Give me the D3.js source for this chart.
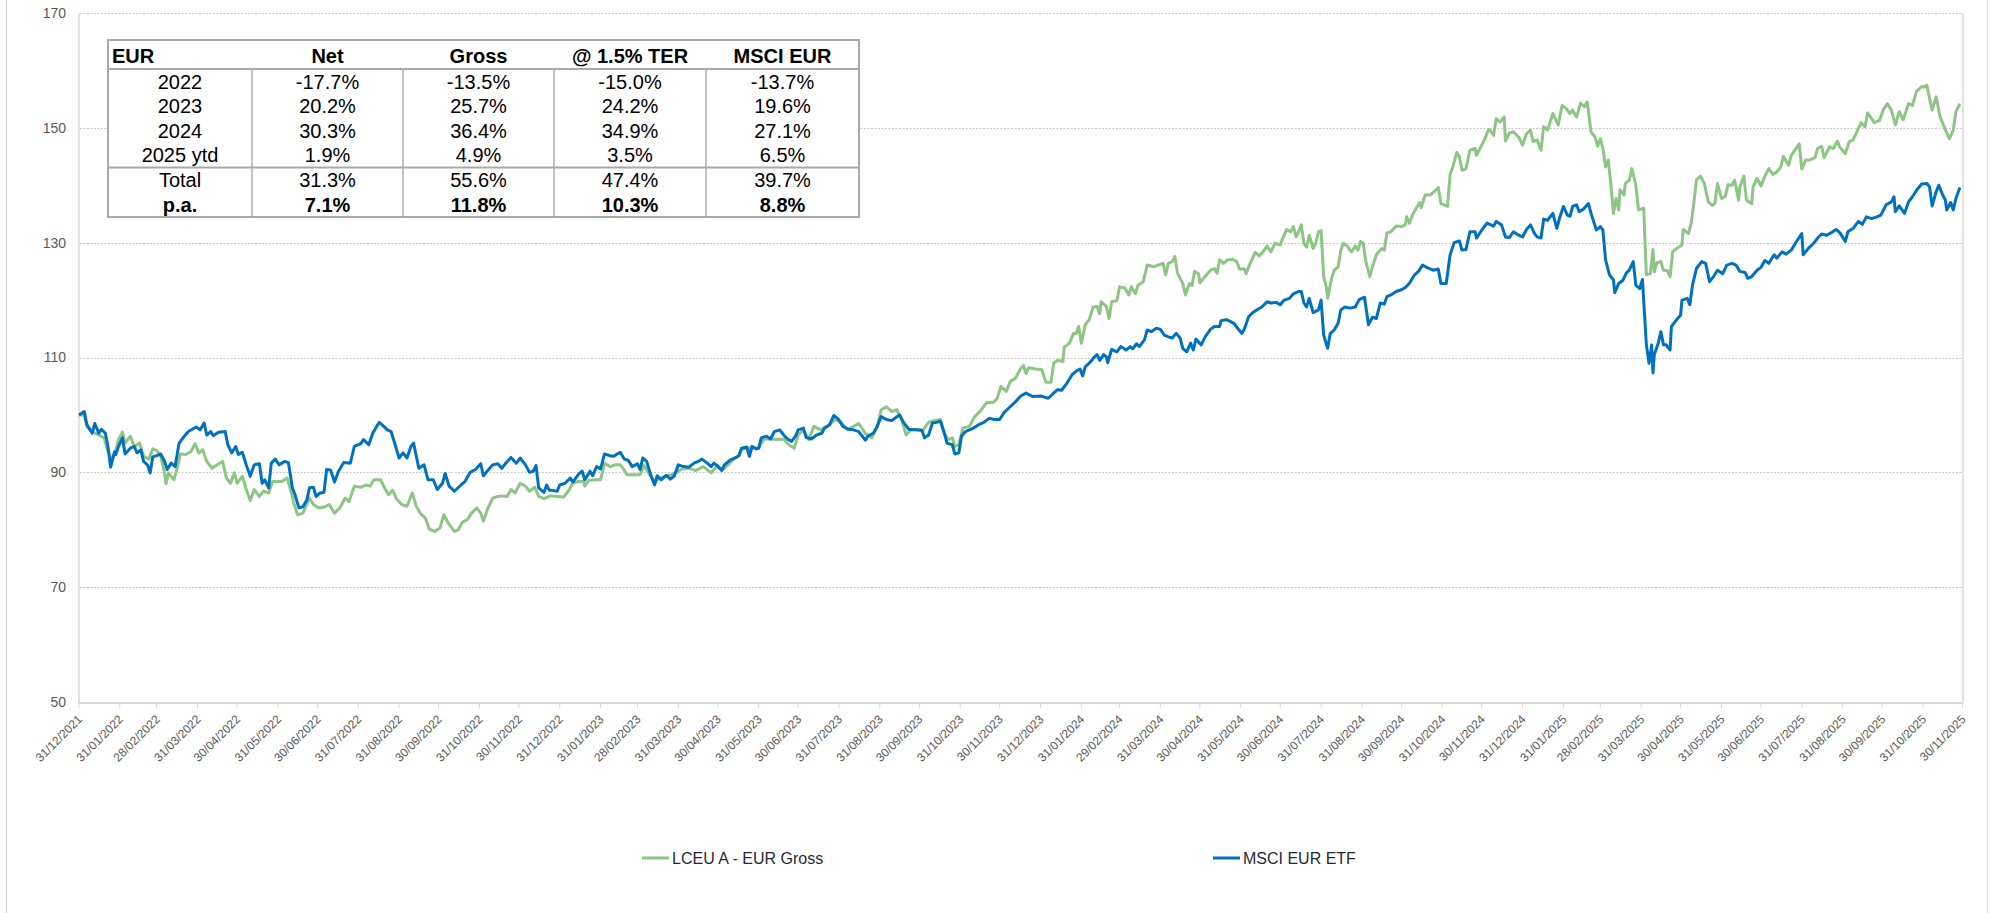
<!DOCTYPE html>
<html>
<head>
<meta charset="utf-8">
<title>LCEU A - EUR Gross vs MSCI EUR ETF</title>
<style>
body{margin:0;background:#fff;}
svg{display:block;font-family:"Liberation Sans",Arial,sans-serif;}
.grid line{stroke:#c9c9c9;stroke-dasharray:2,1.5;}
.ylab,.xlab{fill:#595959;}
.tbl text{fill:#000;font-size:20px;}
</style>
<script src="https://cdn.jsdelivr.net/npm/d3@7"></script>
</head>
<body>
<script>
var width = 1995, height = 913;

// data: [days since startDate, value]
var startDate = "2021-12-31";
var endDate = "2025-11-30";
var yTicks = [50, 70, 90, 110, 130, 150, 170];

var monthEnds = ["31/12/2021","31/01/2022","28/02/2022","31/03/2022","30/04/2022","31/05/2022","30/06/2022","31/07/2022","31/08/2022","30/09/2022","31/10/2022","30/11/2022",
	"31/12/2022","31/01/2023","28/02/2023","31/03/2023","30/04/2023","31/05/2023","30/06/2023","31/07/2023","31/08/2023","30/09/2023","31/10/2023","30/11/2023",
	"31/12/2023","31/01/2024","29/02/2024","31/03/2024","30/04/2024","31/05/2024","30/06/2024","31/07/2024","31/08/2024","30/09/2024","31/10/2024","30/11/2024",
	"31/12/2024","31/01/2025","28/02/2025","31/03/2025","30/04/2025","31/05/2025","30/06/2025","31/07/2025","31/08/2025","30/09/2025","31/10/2025","30/11/2025"];

var lceuGross = [[0,100],[4,100],[6,98],[10,97.1],[15,96.5],[19,96],[22,93.6],[25,92.2],[28,93.9],[30,95.7],[33,97],[35,95.1],[39,96.3],[42,94.5],[46,95.1],[49,92.8],[53,92.3],[56,94.1],[59,93.8],[62,92.8],[65,89.9],[66,88],[68,89.9],[72,88.7],[74,90.2],[77,93.2],[81,93.1],[85,93.6],[88,95],[91,93.4],[94,93.9],[97,91.9],[101,90.7],[105,91.3],[109,91.9],[112,89],[115,88.1],[118,89.9],[120,88.1],[124,89.3],[127,87],[130,85.1],[133,87],[137,85.8],[140,86.7],[144,86.4],[147,88.4],[151,88.4],[154,88.4],[158,89],[161,86.7],[163,84.7],[166,82.6],[170,82.9],[175,85.5],[178,84.4],[182,83.8],[187,84],[190,84.4],[194,82.9],[198,83.8],[202,85.5],[205,84.9],[209,87.6],[214,87.4],[218,87.8],[221,87.6],[224,88.7],[229,88.7],[232,87.3],[235,86.1],[238,86.9],[241,85.4],[245,84.4],[249,84.1],[253,86.4],[256,84.1],[259,82.9],[263,82],[266,80.1],[270,79.7],[274,80.3],[277,82.6],[280,81.3],[285,79.7],[288,80],[291,81.3],[295,81.8],[298,82.9],[302,83.8],[305,82.9],[307,81.5],[310,83.5],[314,85.5],[318,85.8],[321,85.9],[325,85.8],[328,87],[331,86.4],[335,88.1],[339,87.6],[342,86.7],[346,87.4],[349,85.8],[353,85.4],[357,85.8],
	[358,85.9],[363,85.8],[368,85.7],[372,86.9],[375,88.1],[379,88.4],[383,88.4],[384,87.6],[387,88.6],[392,88.7],[396,88.7],[399,91.6],[403,91],[407,91.3],[411,91.3],[413,90.7],[416,89.6],[422,89.6],[426,89.6],[429,91.2],[434,89.3],[437,88.4],[441,89],[446,89.3],[452,89.8],[458,90.6],[464,90.7],[468,90.3],[474,91],[480,89.9],[484,91],[489,90.5],[494,91.6],[498,92.5],[501,92.9],[503,94],[507,94.2],[511,94.3],[516,94.2],[520,95.8],[525,95.8],[530,95.7],[535,95.8],[539,94.8],[543,94.2],[546,96.5],[550,97.4],[554,95.7],[558,98],[563,97.4],[568,98],[574,99.2],[578,98.9],[583,97.5],[588,98],[592,98.5],[597,96.8],[602,96],[606,98],[609,100.9],[613,101.4],[617,100.6],[621,100.9],[625,98.9],[628,96.5],[632,97.5],[636,97.4],[641,97.4],[645,98.7],[649,99],[654,99.2],[657,96.8],[660,95.7],[663,96],[665,94.5],[668,94.8],[671,97.7],[676,98],[680,99.7],[684,100.6],[689,102.1],[694,102.2],[697,102.8],[700,105],[704,104.1],[707,105.8],[711,106.4],[715,108.1],
	[717,108.6],[719,107.2],[721,108.2],[726,108],[731,107.9],[734,105.7],[738,105.7],[740,109],[743,109.5],[747,109.3],[748,111.8],[752,112.5],[755,114.2],[757,114.2],[759,115.4],[761,112.5],[764,115.7],[767,116.6],[770,118.8],[773,118.9],[775,117.6],[776,119.7],[780,118.9],[782,116.8],[784,119.7],[788,119.9],[790,122.3],[794,122.1],[797,120.9],[799,122.3],[802,121.1],[804,122.6],[808,123.2],[811,126.1],[816,125.8],[819,126.1],[823,126.4],[825,124.4],[827,126.4],[830,126.7],[832,127.6],[834,124.7],[838,122.9],[840,120.9],[843,122.9],[845,122.5],[847,125],[850,124.6],[851,123],[855,124.1],[859,125.2],[862,125.5],[864,124.7],[866,127],[869,126.4],[872,127],[876,127.1],[879,126.7],[881,125.4],[885,125.4],[886,124.6],[889,126.3],[893,128.3],[896,127.7],[899,128.4],[902,129.4],[905,128.4],[908,129.9],[912,129.6],[914,130.8],[917,132.3],[920,131.9],[922,132.8],[924,131],[926,131.9],[928,133.1],[930,129.9],[932,129.2],[934,131.3],[937,129],[939,129.9],[941,131.9],[943,132.1],[945,124.1],[947,122.3],[948,120.3],[951,123.8],[953,125.2],[956,125.8],[958,128.7],[960,129.9],[963,129.4],[966,128.4],[969,129.4],[971,128.7],[973,130.2],[975,129.9],[977,126.7],[980,124.1],[982,125.8],[985,127.9],[989,129],[991,128.7],[993,131.7],[996,131.9],[1000,132.9],[1004,132.8],[1007,133.1],[1008,134.5],[1010,133.4],[1013,135.1],[1016,136.3],[1018,137],[1019,136.1],[1022,138.3],[1026,138.3],[1028,138.7],[1032,139.6],[1034,136.8],[1039,136.3],[1041,141.9],[1043,143.2],[1046,145.7],[1048,145],[1050,142.6],[1053,142.9],[1056,146.1],[1060,146.4],[1061,145.2],[1063,146.1],[1067,147.9],[1070,149.6],
	[1071,149.7],[1074,148.7],[1076,151.6],[1079,151],[1082,151.9],[1083,147.7],[1086,149.1],[1089,149.3],[1093,148.4],[1096,147],[1099,149],[1102,149.6],[1104,147.6],[1107,147.9],[1110,146.1],[1112,150.2],[1115,149.6],[1119,152.5],[1123,150.5],[1126,153.9],[1129,153.4],[1132,152.5],[1134,153.1],[1137,151.9],[1140,154.3],[1143,153.7],[1145,154.5],[1148,149.3],[1151,148.4],[1153,146.8],[1155,148.1],[1157,146.4],[1159,143.2],[1161,144.4],[1163,140.3],[1165,135.1],[1167,137.7],[1169,135.7],[1170,139.2],[1173,138.3],[1174,140.3],[1177,140.9],[1179,142.9],[1182,140],[1184,135.7],[1188,136],[1189,129.9],[1190,124.4],[1193,124.6],[1195,128.8],[1196,124.9],[1198,126.5],[1201,126.7],[1203,125.2],[1206,125.1],[1208,124.1],[1210,128.4],[1213,129],[1217,129.6],[1218,132.3],[1222,131.6],[1224,133.4],[1226,136.8],[1228,140.9],[1231,141.6],[1234,140.3],[1237,137.1],[1240,136.5],[1242,136.8],[1244,140.3],[1247,137.7],[1250,138.1],[1252,140.1],[1255,140],[1257,140.9],[1260,137.4],[1261,139.7],[1264,141.6],[1266,137.4],[1270,136.8],[1271,139.7],[1274,141.2],[1277,139.9],[1280,141.6],[1283,142.9],[1286,141.9],[1289,142.3],[1292,143.2],[1294,145],[1298,143.5],[1300,145.2],[1303,146.2],[1306,147.2],[1308,142.8],[1311,144.4],[1314,144.4],[1318,144.8],[1320,146.4],[1323,146.8],[1325,144.8],[1329,146.7],[1332,146.4],[1335,147.7],[1337,146.6],[1341,145.5],[1344,147.6],[1347,147.9],[1351,149.9],[1353,150.9],[1356,150.2],[1358,152.6],[1361,151.6],[1363,150.9],[1367,151.3],[1370,153.2],[1373,154.2],[1376,153.1],[1379,150.5],[1382,152.8],[1385,151.4],[1389,154.2],[1392,153.9],[1395,156.3],[1399,157.2],[1401,157.1],[1403,157.4],[1405,155.1],[1407,153.1],[1410,155.4],[1413,151.9],[1416,150.2],[1420,148.1],[1423,149.6],[1425,152.8],[1428,154.2]];

var msciEtf = [[0,100],[4,100.6],[6,98.3],[10,96.8],[12,98.5],[15,96.8],[17,97.5],[20,96.8],[22,94.5],[24,90.9],[27,93.6],[28,93.1],[30,94.5],[33,96],[35,93.2],[39,94.2],[42,94.5],[44,93.4],[47,93.9],[49,91.9],[52,91.3],[54,89.9],[56,92.7],[59,92.9],[62,93.2],[65,91.9],[67,90.5],[70,91.6],[73,91],[76,95.1],[80,96.3],[83,97.1],[89,97.9],[92,97.4],[95,98.6],[97,96.5],[100,97.1],[102,96.4],[106,97],[111,97.1],[113,94.8],[116,93.4],[119,94.5],[121,93.1],[124,93.5],[127,91.3],[130,89.3],[133,91.3],[137,91.5],[139,88.1],[141,88.7],[144,87.3],[146,91.6],[149,92.3],[152,91.3],[156,91.9],[159,91.7],[162,87.3],[164,86.1],[167,83.8],[170,84],[173,85.2],[175,87.3],[178,87.4],[180,85.8],[183,86.4],[186,86.5],[188,90.5],[191,90.4],[194,88.3],[197,90.2],[201,91.7],[206,91.6],[209,94.5],[214,95],[216,95.7],[220,94.8],[223,96.8],[226,98],[228,98.7],[231,98.1],[234,97.4],[237,97.1],[240,94.8],[243,92.5],[246,93.4],[249,92.5],[252,94.5],[254,95.1],[258,90.7],[262,91.3],[265,88.7],[269,88.7],[272,87],[276,88.1],[278,89.8],[281,87.6],[285,86.7],[290,87.8],[293,88.4],[297,90],[301,90.5],[305,91.5],[307,89.4],[311,90.5],[314,91.3],[318,91.5],[321,90.7],[324,91.6],[328,92.6],[332,91.6],[335,92.5],[339,91.3],[342,90],[345,90.2],[347,91.2],[349,87.3],[353,86.5],[355,87.8],[357,86.9],
	[358,86.9],[363,86.7],[365,87.8],[369,88.1],[373,89],[375,88.3],[379,89.6],[382,90.2],[384,88.7],[388,90.2],[390,89.4],[393,91],[396,90.6],[399,93.2],[403,92.9],[406,92.8],[408,93.1],[411,93.5],[414,92.3],[417,92.1],[420,91],[424,91.5],[426,90.5],[428,92.5],[431,91.9],[434,89.6],[437,87.8],[439,89.4],[442,88.7],[446,89.5],[449,88.8],[452,89.4],[455,91.3],[459,91],[463,90.9],[467,91.6],[470,91.9],[473,92.3],[477,91.6],[480,91],[482,91.6],[485,91.1],[488,90.3],[490,91.3],[494,92.1],[498,92.5],[501,92.9],[503,94.2],[507,94.4],[509,92.8],[511,94.5],[514,94.1],[516,94.2],[518,96],[522,96.3],[525,95.8],[528,97.1],[532,97.4],[535,96.5],[538,95.8],[541,95.4],[544,96.3],[546,97.4],[550,97.7],[552,96.1],[556,95.8],[560,96.5],[564,96.8],[566,97.7],[570,98.3],[573,99.9],[576,99.4],[580,98],[584,97.5],[588,97.4],[592,97.1],[594,96.5],[597,95.6],[599,96.3],[603,96.8],[606,98],[609,99.7],[613,99.2],[617,99],[621,99.7],[623,100],[626,98.7],[630,97.5],[633,97.4],[636,97.4],[640,97.3],[642,96],[645,96.5],[648,98.6],[651,98.7],[654,98.9],[657,96.8],[659,95.1],[663,94.8],[665,93.2],[668,93.4],[670,96.3],[673,97.1],[676,97.4],[679,97.7],[683,98.3],[687,98.7],[691,99.4],[695,99.2],[699,99.2],[702,100.3],[706,101.2],[711,102.3],[715,103.3],
	[719,103.8],[724,103.2],[730,103.3],[733,103.1],[736,102.9],[740,103.8],[743,104.4],[746,104.3],[750,105.5],[754,107],[757,107.6],[760,108],[762,106.8],[764,108.4],[767,109],[771,110.1],[773,110.5],[775,109.5],[778,110.5],[780,110.1],[781,109.1],[784,111.4],[788,111],[791,111.9],[795,111.3],[798,111.9],[800,111.5],[803,112.4],[805,111.9],[809,113.1],[811,114.8],[814,114.5],[818,115.1],[821,114.9],[824,113.9],[827,113.6],[830,113.4],[833,114.2],[836,113.4],[838,111.6],[841,111],[844,112.5],[846,111.3],[848,113.2],[852,112.2],[855,113.6],[859,114.9],[862,115.4],[866,115.4],[867,116.4],[871,116.6],[874,116.3],[877,115.9],[881,114.7],[883,114.2],[885,115.1],[888,117.1],[891,117.8],[895,118.4],[898,118.8],[902,119.7],[905,119.5],[909,119.6],[912,119.2],[915,120],[919,120.3],[922,121.1],[926,121.5],[928,121.5],[930,119.5],[932,118.8],[934,120.3],[937,117.8],[941,118.3],[943,120],[945,113.9],[948,111.6],[950,114.2],[953,114.8],[956,116],[958,118.3],[961,118.8],[965,118.6],[969,118.8],[972,120.1],[974,120.3],[976,120.5],[979,115.7],[982,117],[985,116.8],[988,119.5],[991,119.3],[993,120.6],[996,120.9],[1000,121.5],[1004,121.8],[1007,122.2],[1010,122.9],[1014,124.4],[1017,125],[1020,126.1],[1024,125.6],[1028,125.2],[1032,125.4],[1034,122.9],[1038,122.9],[1041,127.9],[1044,130],[1048,130.3],[1050,128.7],[1053,128.8],[1056,131.9],[1060,131.9],[1061,130.8],[1065,132.2],[1069,133.4],
	[1071,133.2],[1074,132.9],[1076,133.7],[1080,133.1],[1083,131],[1086,130.9],[1089,131.9],[1093,131.3],[1096,131],[1099,132.3],[1102,133.1],[1105,131.6],[1107,131],[1110,130.8],[1112,134.1],[1115,133.9],[1119,135.1],[1122,132.5],[1124,134.2],[1127,136.3],[1130,134.8],[1132,134.6],[1134,136.3],[1137,136.6],[1139,135.4],[1142,135.8],[1146,136.8],[1148,135.1],[1152,132.2],[1155,132.8],[1157,132.2],[1159,127],[1162,124.4],[1165,123.5],[1166,121.3],[1169,122.9],[1172,123.4],[1175,124.8],[1177,125.2],[1180,126.7],[1182,122.6],[1185,122],[1187,123.6],[1190,112.2],[1192,109],[1194,112.2],[1195,107.3],[1196,110.5],[1199,112.5],[1201,114.5],[1203,112.2],[1205,112.2],[1208,111.3],[1209,115.4],[1213,116.6],[1216,117.4],[1217,120],[1221,120.3],[1223,119.2],[1225,122.6],[1228,125.5],[1232,126.7],[1235,126.4],[1238,123.2],[1241,124.1],[1244,125.2],[1248,124.6],[1251,126.1],[1255,126.4],[1258,126.1],[1261,125],[1265,124.8],[1267,123.8],[1270,124.1],[1274,125.2],[1277,125.7],[1280,126.9],[1283,126.4],[1287,127.9],[1289,127.3],[1293,128.4],[1296,128],[1300,128.7],[1304,130.2],[1308,131.6],[1309,127.9],[1313,129],[1317,129.9],[1320,130.8],[1323,131.5],[1327,131.3],[1330,131.7],[1334,132.3],[1337,131.7],[1341,130.2],[1343,131.9],[1347,132.5],[1351,133.7],[1354,133.2],[1357,134.5],[1361,134.2],[1365,134.5],[1368,134.8],[1372,136.6],[1376,137.1],[1378,138],[1379,135.4],[1382,136.4],[1386,135.1],[1389,137.1],[1392,138],[1396,139.4],[1399,140.2],[1403,140.3],[1405,139.7],[1407,136.4],[1410,138.9],[1412,140],[1415,138.3],[1417,137.4],[1418,135.7],[1421,137],[1423,135.7],[1425,137.7],[1428,139.6]];

var seriesNames = ["LCEU A - EUR Gross", "MSCI EUR ETF"];
var seriesColors = ["#8dc584", "#0070c0"];

var tableHead = ["EUR", "Net", "Gross", "@ 1.5% TER", "MSCI EUR"];
var tableRows = [
	["2022", "-17.7%", "-13.5%", "-15.0%", "-13.7%"],
	["2023", "20.2%", "25.7%", "24.2%", "19.6%"],
	["2024", "30.3%", "36.4%", "34.9%", "27.1%"],
	["2025 ytd", "1.9%", "4.9%", "3.5%", "6.5%"],
	["Total", "31.3%", "55.6%", "47.4%", "39.7%"],
	["p.a.", "7.1%", "11.8%", "10.3%", "8.8%"]
];

var svg = d3.select("body").append("svg")
	.attr("width", width)
	.attr("height", height);

// outer chart frame
svg.append("rect")
	.attr("x", 6.5).attr("y", -2)
	.attr("width", 1981).attr("height", height + 4)
	.attr("fill", "none").attr("stroke", "#d9d9d9");

var parseIso = d3.timeParse("%Y-%m-%d"),
	parseDmy = d3.timeParse("%d/%m/%Y"),
	t0 = parseIso(startDate);

var x = d3.scaleTime()
	.domain([t0, parseIso(endDate)])
	.range([79, 1962.5]);

var y = d3.scaleLinear()
	.domain([50, 170])
	.range([702, 13]);

// gridlines
svg.append("g").attr("class", "grid")
	.selectAll("line")
	.data(yTicks.slice(1))
	.enter().append("line")
	.attr("x1", 80).attr("x2", 1962)
	.attr("y1", function(d){ return Math.round(y(d)) + 0.5; })
	.attr("y2", function(d){ return Math.round(y(d)) + 0.5; });

// plot borders
svg.append("line").attr("x1", 79).attr("x2", 79).attr("y1", y(170)).attr("y2", y(50))
	.attr("stroke", "#d9d9d9").attr("stroke-width", 1.5);
svg.append("line").attr("x1", 1963).attr("x2", 1963).attr("y1", y(170)).attr("y2", y(50))
	.attr("stroke", "#d9d9d9").attr("stroke-width", 1.5);

// y labels
svg.append("g").selectAll("text")
	.data(yTicks)
	.enter().append("text")
	.attr("class", "ylab")
	.attr("x", 66)
	.attr("y", function(d){ return y(d); })
	.attr("dy", "0.35em")
	.attr("text-anchor", "end")
	.style("font-size", "14px")
	.text(function(d){ return d; });

// x axis
svg.append("line").attr("x1", 78).attr("x2", 1963.5).attr("y1", 703).attr("y2", 703)
	.attr("stroke", "#d9d9d9").attr("stroke-width", 2);

var xt = svg.append("g").selectAll("g")
	.data(monthEnds)
	.enter().append("g")
	.attr("transform", function(d){ return "translate(" + x(parseDmy(d)) + ",0)"; });

xt.append("line")
	.attr("y1", 703).attr("y2", 708)
	.attr("stroke", "#d9d9d9");

xt.append("text")
	.attr("class", "xlab")
	.attr("text-anchor", "end")
	.attr("transform", "translate(4,720) rotate(-45)")
	.style("font-size", "12px")
	.text(function(d){ return d; });

// lines
var line = d3.line()
	.x(function(d){ return x(d3.timeDay.offset(t0, d[0])); })
	.y(function(d){ return y(d[1]); });

svg.append("g").selectAll("path")
	.data([lceuGross, msciEtf])
	.enter().append("path")
	.attr("d", line)
	.attr("fill", "none")
	.attr("stroke", function(d, i){ return seriesColors[i]; })
	.attr("stroke-width", 3)
	.attr("stroke-linejoin", "round");

// table
var colX = [108, 252, 403, 554, 706, 859];
var headY = 56, rowY0 = 81.5, rowH = 24.6;
var tbl = svg.append("g").attr("class", "tbl");

tbl.append("rect")
	.attr("x", colX[0]).attr("y", 40)
	.attr("width", colX[5] - colX[0]).attr("height", 177)
	.attr("fill", "#fff").attr("stroke", "#a9a9a9").attr("stroke-width", 2);

tbl.selectAll("line.col")
	.data(colX.slice(1, 5))
	.enter().append("line")
	.attr("x1", function(d){ return d; }).attr("x2", function(d){ return d; })
	.attr("y1", 69).attr("y2", 217)
	.attr("stroke", "#9a9a9a").attr("stroke-width", 1.2);

[69, 167.5].forEach(function(yy){
	tbl.append("line")
		.attr("x1", colX[0]).attr("x2", colX[5])
		.attr("y1", yy).attr("y2", yy)
		.attr("stroke", "#a9a9a9").attr("stroke-width", 2);
});

tbl.selectAll("text.head")
	.data(tableHead)
	.enter().append("text")
	.attr("x", function(d, i){ return i == 0 ? colX[0] + 4 : (colX[i] + colX[i + 1]) / 2; })
	.attr("y", headY)
	.attr("dy", "0.35em")
	.attr("text-anchor", function(d, i){ return i == 0 ? "start" : "middle"; })
	.style("font-weight", "bold")
	.text(function(d){ return d; });

tableRows.forEach(function(row, r){
	tbl.selectAll("text.r" + r)
		.data(row)
		.enter().append("text")
		.attr("x", function(d, i){ return (colX[i] + colX[i + 1]) / 2; })
		.attr("y", rowY0 + r * rowH)
		.attr("dy", "0.35em")
		.attr("text-anchor", "middle")
		.style("font-weight", r == tableRows.length - 1 ? "bold" : "normal")
		.text(function(d){ return d; });
});

// legend
var legendX = [642, 1213];
var lg = svg.append("g").selectAll("g")
	.data(seriesNames)
	.enter().append("g")
	.attr("transform", function(d, i){ return "translate(" + legendX[i] + ",858)"; });

lg.append("line")
	.attr("x1", 0).attr("x2", 27)
	.attr("stroke", function(d, i){ return seriesColors[i]; })
	.attr("stroke-width", 3);

lg.append("text")
	.attr("x", 30)
	.attr("dy", "0.35em")
	.style("font-size", "16px")
	.style("fill", "#1f2a37")
	.text(function(d){ return d; });
</script>
</body>
</html>
